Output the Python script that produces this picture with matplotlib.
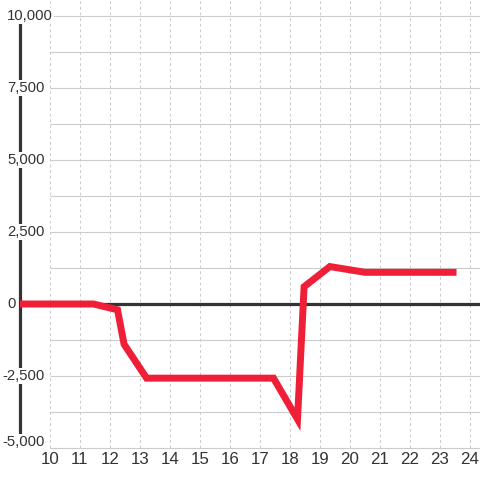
import matplotlib
matplotlib.use("Agg")
import matplotlib.pyplot as plt
from matplotlib.transforms import blended_transform_factory

# Data
x_vals = [9, 11.45, 12.25, 12.47, 13.22, 17.45, 18.25, 18.47, 19.33, 20.5, 23.55]
y_vals = [0, 0, -200, -1400, -2575, -2575, -4000, 600, 1300, 1100, 1100]
x_ticks = list(range(10, 25))
y_ticks = [-5000, -2500, 0, 2500, 5000, 7500, 10000]
y_grid = [-5000 + 1250 * i for i in range(13)]

plt.rcParams['font.family'] = ['Liberation Sans', 'DejaVu Sans']

fig = plt.figure(figsize=(4.8, 4.8), dpi=100)
ax = fig.add_axes([0, 0, 1, 1])
ax.set_xlim(9 - 20 / 30, 9 + 460 / 30)
ax.set_ylim(-5000 - 32 / 72 * 2500, 10000 + 16 / 72 * 2500)
ax.axis('off')

xmax = ax.get_xlim()[1]
ymax = ax.get_ylim()[1]
grid_c = '#cccccc'
text_c = '#333333'

# horizontal grid
for g in y_grid:
    ax.plot([10, xmax], [g, g], color=grid_c, lw=0.8, zorder=1, solid_capstyle='butt')
# vertical dashed grid
for t in x_ticks:
    ax.plot([t, t], [-5000, ymax], color=grid_c, lw=0.75, ls=(0, (2.7, 2.7)), zorder=1)

# y axis line
ax.plot([9, 9], [-5000, 10000], color=text_c, lw=2.3, zorder=2, solid_capstyle='butt')
# zero line
ax.plot([9, xmax], [0, 0], color=text_c, lw=2.3, zorder=2, solid_capstyle='butt')

# series
ax.plot(x_vals, y_vals, color='#ee1f36', lw=5, zorder=5,
        solid_joinstyle='miter', solid_capstyle='butt')

# y labels
ytr = blended_transform_factory(fig.dpi_scale_trans, ax.transData)
for v in y_ticks:
    lab = f"{abs(v):,}"
    if v < 0:
        lab = "-" + lab
        xp = 2.5
    else:
        xp = 7
    yv = v + (6 / 72 * 2500 if v == min(y_ticks) else 0)
    ax.text(xp / 100, yv, lab, transform=ytr, ha='left', va='center', fontsize=10.7,
            color=text_c, zorder=6,
            bbox=dict(facecolor='white', edgecolor='none', pad=0.6))

# x labels
xtr = blended_transform_factory(ax.transData, fig.dpi_scale_trans)
for t in x_ticks:
    ax.text(t, (480 - 460) / 100, str(t), transform=xtr, ha='center', va='center',
            fontsize=12.2, color=text_c, zorder=6)

fig.savefig('out.png', dpi=100, facecolor='white')
